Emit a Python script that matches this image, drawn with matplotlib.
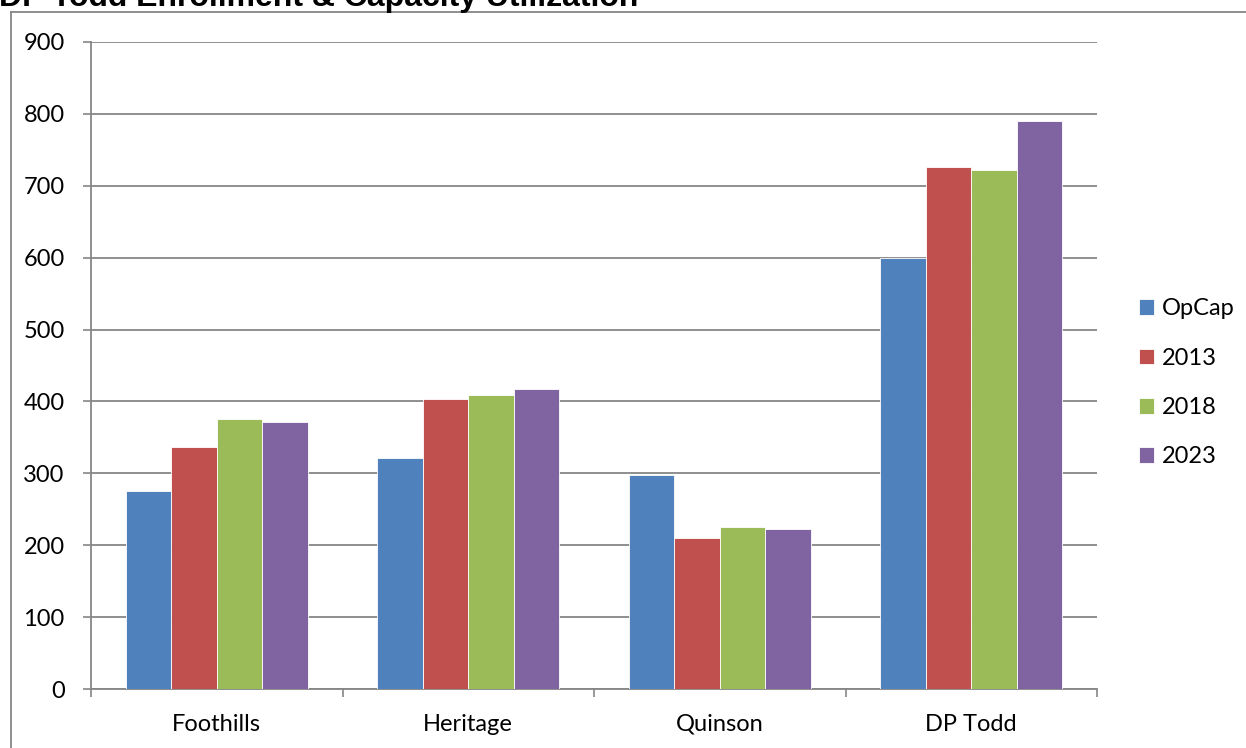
import numpy as np
import matplotlib.pyplot as plt
from matplotlib.lines import Line2D

schools = ['Foothills', 'Heritage', 'Quinson', 'DP Todd']
series = ['OpCap', '2013', '2018', '2023']
opcap = [275, 322, 298, 600]
enr_2013 = [337, 403, 210, 726]
enr_2018 = [376, 409, 226, 722]
enr_2023 = [371, 417, 222, 790]
colors = ['#4F81BD', '#C0504D', '#9BBB59', '#8064A2']

plt.rcParams['font.family'] = ['Lato', 'DejaVu Sans']

fig = plt.figure(figsize=(12.46, 7.48), dpi=100)
W, H = 1246, 748
ax = fig.add_axes([91 / W, 1 - 689 / H, (1097 - 91) / W, (689 - 42) / H])

x = np.arange(len(schools))
bw = 0.181
values = [opcap, enr_2013, enr_2018, enr_2023]
for i, (name, vals) in enumerate(zip(series, values)):
    ax.bar(x + (i - 1.5) * bw, vals, bw, color=colors[i], label=name,
           edgecolor='white', linewidth=0.6, zorder=3)

ax.set_xlim(-0.5, len(schools) - 0.5)
ax.set_ylim(0, 900)
ax.set_yticks(range(0, 901, 100))
ax.set_xticks(x)
ax.set_xticklabels(schools, fontsize=17)
ax.tick_params(axis='y', labelsize=17, length=6, width=1.2, color='#868686', pad=13)
ax.tick_params(axis='x', length=0, pad=18)
ax.set_xticks(np.arange(-0.5, len(schools), 1), minor=True)
ax.tick_params(axis='x', which='minor', length=6, width=1.2, color='#868686')
ax.grid(axis='y', color='#868686', linewidth=1.3, zorder=0)
for s in ['top', 'right']:
    ax.spines[s].set_visible(False)
for s in ['left', 'bottom']:
    ax.spines[s].set_color('#868686')
    ax.spines[s].set_linewidth(1.3)

ax.legend(loc='center left', bbox_to_anchor=(1.042, 0.473), frameon=False,
          fontsize=17, handlelength=0.64, handleheight=0.64, handletextpad=0.3,
          labelspacing=1.2, borderpad=0, borderaxespad=0)

# outer chart frame
fig.add_artist(Line2D([10.5 / W, 10.5 / W], [0, 1 - 12 / H], color='#868686',
                      linewidth=1.3, transform=fig.transFigure))
fig.add_artist(Line2D([10.5 / W, 1], [1 - 12 / H, 1 - 12 / H], color='#868686',
                      linewidth=1.3, transform=fig.transFigure))

fig.text(-1 / W, 1 - 6 / H, 'DP Todd Enrollment & Capacity Utilization',
         fontsize=23, fontweight='bold', family='Liberation Sans',
         ha='left', va='baseline')

fig.savefig('out.png', dpi=100)
